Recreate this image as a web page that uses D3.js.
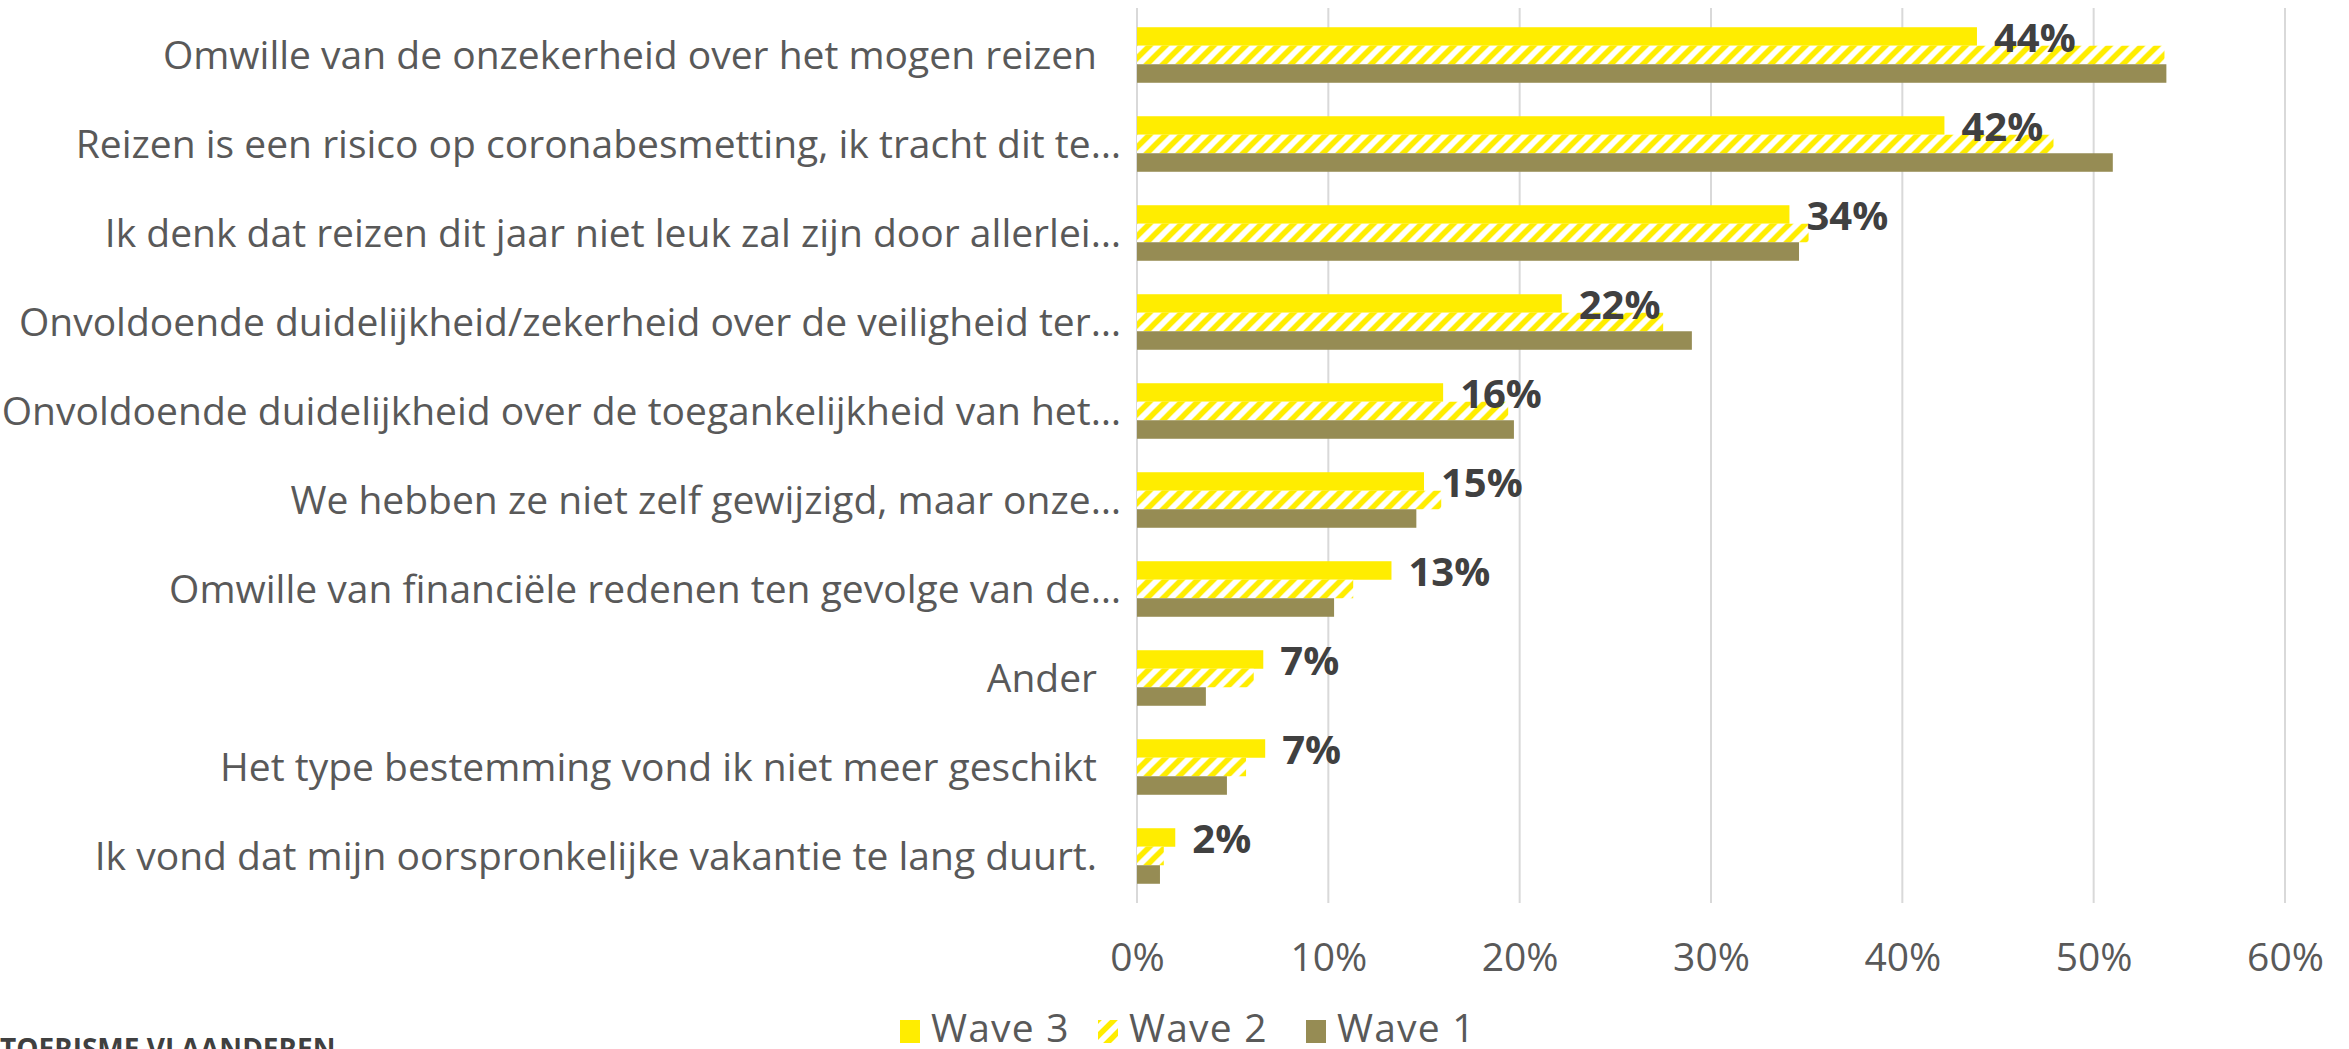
<!DOCTYPE html>
<html>
<head>
<meta charset="utf-8">
<script src="https://cdn.jsdelivr.net/npm/d3@7"></script>
<style>
  html, body { margin: 0; padding: 0; background: #fff; }
  svg { display: block; }
</style>
</head>
<body>
<svg id="chart" width="2349" height="1049"></svg>
<script>
// ---- data ----
const categories = [
  "Omwille van de onzekerheid over het mogen reizen",
  "Reizen is een risico op coronabesmetting, ik tracht dit te…",
  "Ik denk dat reizen dit jaar niet leuk zal zijn door allerlei…",
  "Onvoldoende duidelijkheid/zekerheid over de veiligheid ter…",
  "Onvoldoende duidelijkheid over de toegankelijkheid van het…",
  "We hebben ze niet zelf gewijzigd, maar onze…",
  "Omwille van financiële redenen ten gevolge van de…",
  "Ander",
  "Het type bestemming vond ik niet meer geschikt",
  "Ik vond dat mijn oorspronkelijke vakantie te lang duurt."
];
const seriesNames = ["Wave 3", "Wave 2", "Wave 1"];
const wave3 = [43.9, 42.2, 34.1, 22.2, 16.0, 15.0, 13.3, 6.6, 6.7, 2.0];
const wave2 = [53.7, 47.9, 35.1, 27.5, 19.4, 15.9, 11.3, 6.1, 5.7, 1.4];
const wave1 = [53.8, 51.0, 34.6, 29.0, 19.7, 14.6, 10.3, 3.6, 4.7, 1.2];
const xTicks = [0, 10, 20, 30, 40, 50, 60];
const footerText = "TOERISME VLAANDEREN";

// ---- styles ----
const COL3 = "#FFED00", COL1 = "#968C54", GRID = "#D9D9D9";
const TXT = "#595959", LBL = "#404040";
const FONT = "'Open Sans', 'Noto Sans', sans-serif";

const svg = d3.select("#chart");
const defs = svg.append("defs");
const pat = defs.append("pattern")
  .attr("id", "hatch").attr("patternUnits", "userSpaceOnUse")
  .attr("width", 16).attr("height", 16);
pat.append("rect").attr("width", 16).attr("height", 16).attr("fill", "#fff");
pat.append("path")
  .attr("d", "M-4,4 L4,-4 M0,16 L16,0 M12,20 L20,12")
  .attr("stroke", COL3).attr("stroke-width", 5.5);

const fills = { "Wave 3": COL3, "Wave 2": "url(#hatch)", "Wave 1": COL1 };
const values = { "Wave 3": wave3, "Wave 2": wave2, "Wave 1": wave1 };

const x = d3.scaleLinear().domain([0, 60]).range([1137, 2285]);
const y = d3.scaleBand().domain(categories).range([10.5, 900.5])
  .paddingInner(0.376).paddingOuter(0.188);
const ys = d3.scaleBand().domain(seriesNames).range([0, y.bandwidth()]);

// gridlines
svg.append("g").selectAll("line").data(xTicks).join("line")
  .attr("x1", d => x(d)).attr("x2", d => x(d))
  .attr("y1", 8).attr("y2", 903)
  .attr("stroke", GRID).attr("stroke-width", 2);

// x axis tick labels
const xAxis = d3.axisBottom(x).tickValues(xTicks).tickFormat(d => d + "%").tickSize(0).tickPadding(0);
const gx = svg.append("g").attr("transform", "translate(0,943)").call(xAxis);
gx.select(".domain").remove();
gx.selectAll("text").attr("dy", null).attr("y", 28)
  .attr("font-family", FONT).attr("font-size", 39).attr("fill", TXT);

// bars
const rows = svg.append("g").selectAll("g").data(categories).join("g")
  .attr("transform", d => `translate(0,${y(d)})`);
rows.selectAll("rect").data((c, i) => seriesNames.map(s => ({ s, v: values[s][i] })))
  .join("rect")
  .attr("x", x(0)).attr("y", d => ys(d.s))
  .attr("width", d => x(d.v) - x(0)).attr("height", ys.bandwidth())
  .attr("fill", d => fills[d.s]);

// data labels (wave 3)
rows.append("text")
  .attr("x", (c, i) => x(wave3[i]) + 17)
  .attr("y", ys("Wave 3") + ys.bandwidth() / 2 + 1.5 + 14.3)
  .attr("font-family", FONT).attr("font-weight", 700).attr("font-size", 40)
  .attr("fill", LBL)
  .text((c, i) => Math.round(wave3[i]) + "%");

// category labels
svg.append("g").selectAll("text").data(categories).join("text")
  .attr("x", d => d.endsWith("…") ? 1121 : 1097)
  .attr("y", d => y(d) + y.bandwidth() / 2 + 14)
  .attr("text-anchor", "end")
  .attr("font-family", FONT).attr("font-size", 39).attr("fill", TXT)
  .text(d => d);

// legend
const legendX = [900, 1098, 1306];
const lg = svg.append("g").selectAll("g").data(seriesNames).join("g")
  .attr("transform", (d, i) => `translate(${legendX[i]},1020)`);
lg.append("rect").attr("width", 20).attr("height", 23).attr("fill", d => fills[d]);
lg.append("text")
  .attr("x", 31).attr("y", 22)
  .attr("font-family", FONT).attr("font-size", 39).attr("letter-spacing", 1.2)
  .attr("fill", TXT)
  .text(d => d);

// footer (cut off at bottom)
svg.append("text").attr("x", 0).attr("y", 1059)
  .attr("font-family", FONT).attr("font-weight", 700).attr("font-size", 28)
  .attr("fill", LBL).text(footerText);
</script>
</body>
</html>
